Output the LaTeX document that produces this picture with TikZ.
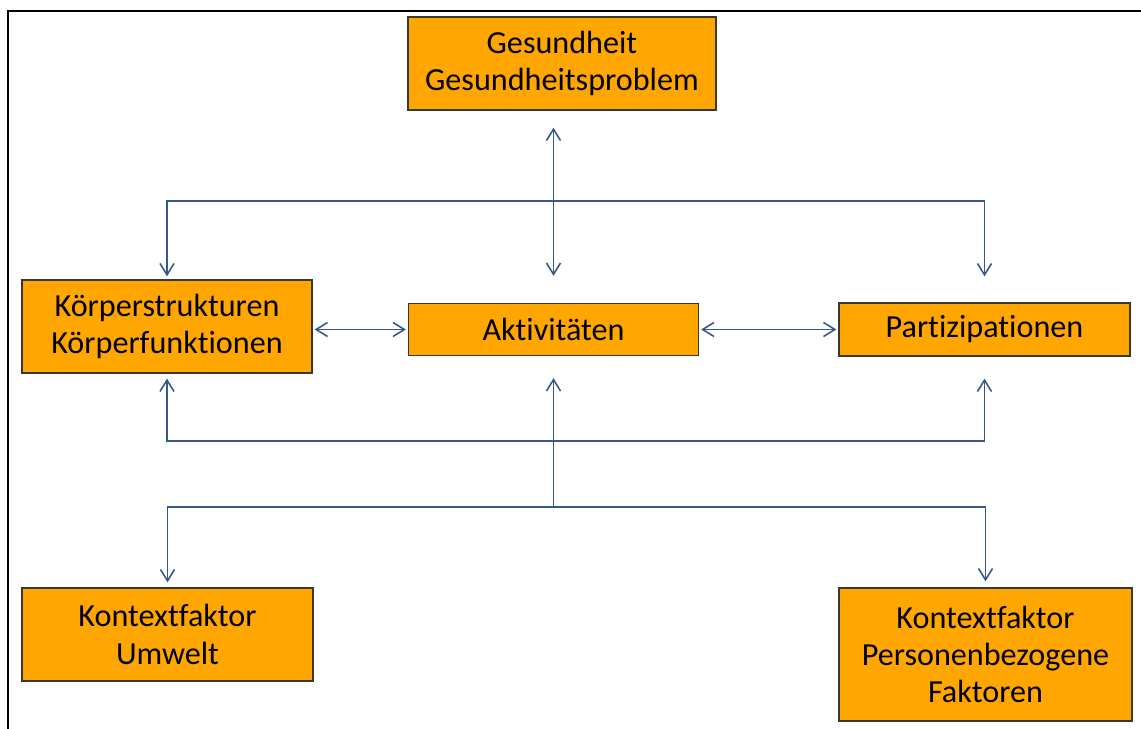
\documentclass[tikz,border=0pt]{standalone}
\usepackage{fontspec}
\setmainfont{Carlito}[Ligatures=NoCommon]
\usetikzlibrary{arrows.meta}
\definecolor{boxfill}{RGB}{255,166,0}
\definecolor{boxline}{RGB}{60,55,45}
\definecolor{linkblue}{RGB}{56,88,140}

\begin{document}
\begin{tikzpicture}[
  box/.style={draw=boxline, fill=boxfill, line width=0.7pt, align=center, inner sep=0pt,
    font=\fontsize{18.3}{21.3}\selectfont},
  link/.style={draw=linkblue, line width=0.9pt},
  every path/.append style={>={Straight Barb[length=6.5pt,width=8pt]}}]
\useasboundingbox (0,0) rectangle (22.82,14.58);
\draw[line width=1.1pt] (0.16,0) -- (0.16,14.36) -- (22.82,14.36);

\node[box, minimum width=6.16cm, minimum height=1.86cm] (ges) at (11.24,13.31) {Gesundheit\\Gesundheitsproblem};
\node[box, minimum width=5.8cm, minimum height=1.86cm] (koerper) at (3.34,8.05) {Körperstrukturen\\Körperfunktionen};
\node[box, minimum width=5.8cm, minimum height=1.04cm] (akt) at (11.07,7.99) {Aktivitäten};
\node[box, minimum width=5.82cm, minimum height=1.06cm] (part) at (19.69,7.99) {Partizipationen};
\node[box, minimum width=5.82cm, minimum height=1.86cm] (umwelt) at (3.35,1.89) {Kontextfaktor\\Umwelt};
\node[box, minimum width=5.86cm, minimum height=2.66cm] (personen) at (19.71,1.49) {Kontextfaktor\\Personenbezogene\\Faktoren};

\coordinate (hubtop) at (11.07,10.56);
\coordinate (hubmid) at (11.07,5.76);
\coordinate (hublow) at (11.07,4.44);

% oben
\draw[link,<->,shorten <=0.34cm,shorten >=0.54cm] (akt.north |- ges.south) -- (akt.north);
\draw[link,->,shorten >=0.06cm] (hubtop) -| (koerper.north);
\draw[link,->,shorten >=0.52cm] (hubtop) -| (part.north);

% mitte
\draw[link,<->,shorten <=0.04cm,shorten >=0.04cm] (koerper.east |- akt.east) -- (akt.west);
\draw[link,<->,shorten <=0.04cm,shorten >=0.04cm] (akt.east) -- (part.west);

% unten
\draw[link,->,shorten >=0.1cm] (hubmid) -| (koerper.south);
\draw[link,->,shorten >=0.44cm] (hubmid) -| (part.south);
\draw[link,->,shorten >=0.44cm] (hublow) -- (akt.south);
\draw[link,->,shorten >=0.1cm] (hublow) -| (umwelt.north);
\draw[link,->,shorten >=0.12cm] (hublow) -| (personen.north);
\end{tikzpicture}
\end{document}
